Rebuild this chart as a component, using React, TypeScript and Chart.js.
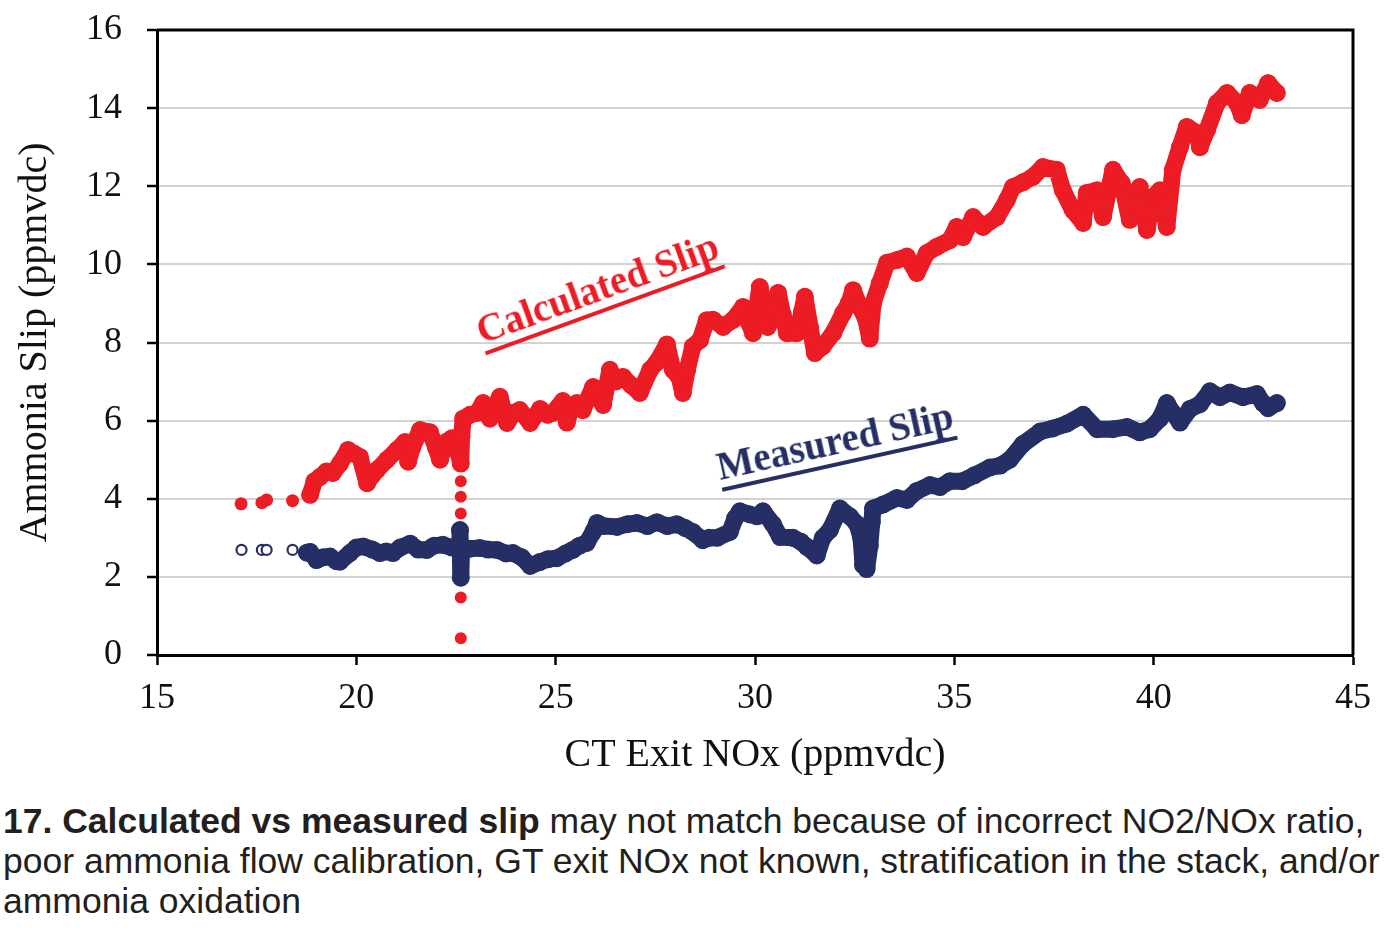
import { useEffect, useRef } from 'react';
import { Chart, registerables } from 'chart.js';
Chart.register(...registerables);

// Calculated slip (dense trace)
const calcX = [18.84, 18.95, 19.09, 19.25, 19.41, 19.59, 19.79, 19.95, 20.09, 20.27, 20.4, 20.52, 20.77, 21.02, 21.22, 21.3, 21.4, 21.6, 21.85, 22.0, 22.1, 22.25, 22.4, 22.55, 22.62, 22.64, 22.68, 22.85, 23.03, 23.18, 23.35, 23.5, 23.6, 23.78, 23.95, 24.1, 24.36, 24.61, 24.8, 24.93, 25.18, 25.28, 25.4, 25.53, 25.68, 25.94, 26.19, 26.36, 26.5, 26.69, 26.9, 27.11, 27.37, 27.54, 27.79, 27.94, 28.1, 28.19, 28.3, 28.44, 28.62, 28.79, 28.95, 29.2, 29.45, 29.7, 29.85, 29.95, 30.05, 30.12, 30.25, 30.32, 30.45, 30.58, 30.7, 30.8, 31.05, 31.18, 31.25, 31.38, 31.5, 31.7, 31.96, 32.21, 32.35, 32.46, 32.63, 32.78, 32.88, 32.96, 33.13, 33.31, 33.56, 33.81, 34.06, 34.31, 34.56, 34.89, 35.06, 35.22, 35.47, 35.72, 36.07, 36.32, 36.47, 36.72, 36.97, 37.22, 37.57, 37.72, 37.97, 38.23, 38.32, 38.58, 38.73, 38.98, 39.2, 39.4, 39.65, 39.83, 39.98, 40.16, 40.33, 40.48, 40.66, 40.83, 41.09, 41.16, 41.34, 41.59, 41.84, 42.09, 42.21, 42.41, 42.66, 42.87, 43.09];
const calcY = [4.1, 4.45, 4.56, 4.7, 4.66, 4.9, 5.25, 5.15, 5.07, 4.4, 4.6, 4.74, 5.0, 5.25, 5.45, 4.95, 5.3, 5.76, 5.7, 5.3, 5.0, 5.45, 5.55, 5.2, 4.9, 5.6, 6.05, 6.15, 6.2, 6.45, 6.05, 6.4, 6.61, 5.94, 6.2, 6.27, 5.94, 6.3, 6.15, 6.2, 6.5, 5.95, 6.35, 6.45, 6.27, 6.86, 6.4, 7.3, 7.0, 7.12, 6.9, 6.71, 7.3, 7.5, 7.95, 7.3, 7.1, 6.71, 7.3, 7.9, 8.06, 8.57, 8.58, 8.4, 8.58, 8.91, 8.5, 8.24, 8.9, 9.42, 8.8, 8.4, 8.8, 9.27, 8.7, 8.24, 8.24, 8.8, 9.17, 8.4, 7.73, 7.9, 8.24, 8.75, 9.0, 9.34, 8.91, 8.6, 8.1, 9.0, 9.52, 10.04, 10.11, 10.2, 9.78, 10.29, 10.45, 10.62, 10.96, 10.7, 11.21, 10.96, 11.21, 11.65, 11.98, 12.1, 12.24, 12.49, 12.42, 11.9, 11.39, 11.06, 11.83, 11.9, 11.21, 12.42, 12.08, 11.14, 11.98, 10.88, 11.72, 11.9, 10.96, 12.42, 13.0, 13.52, 13.36, 13.0, 13.44, 14.13, 14.39, 14.13, 13.82, 14.39, 14.21, 14.64, 14.39];

// Calculated slip, isolated points
const calcSparseX = [17.11, 17.63, 17.75, 18.4];
const calcSparseY = [3.87, 3.9, 3.97, 3.95];
const calcDropX = [22.62, 22.62, 22.62, 22.62, 22.62, 22.62, 22.62, 22.62];
const calcDropY = [4.45, 4.05, 3.62, 3.1, 2.55, 1.95, 1.47, 0.43];

// Measured slip (dense trace)
const measX = [18.76, 18.84, 19.0, 19.17, 19.34, 19.5, 19.59, 19.84, 20.0, 20.17, 20.4, 20.59, 20.75, 20.92, 21.1, 21.35, 21.55, 21.77, 21.95, 22.17, 22.4, 22.58, 22.6, 22.62, 22.64, 22.85, 23.1, 23.3, 23.53, 23.75, 23.93, 24.15, 24.36, 24.6, 24.8, 25.03, 25.25, 25.43, 25.6, 25.78, 25.94, 26.04, 26.2, 26.54, 26.8, 27.04, 27.3, 27.54, 27.8, 28.04, 28.25, 28.44, 28.69, 28.85, 29.05, 29.37, 29.5, 29.62, 29.87, 30.05, 30.2, 30.45, 30.63, 30.95, 31.15, 31.3, 31.55, 31.7, 31.88, 32.13, 32.38, 32.56, 32.66, 32.71, 32.8, 32.88, 32.93, 32.96, 33.21, 33.56, 33.81, 34.06, 34.39, 34.64, 34.89, 35.2, 35.5, 35.89, 36.15, 36.39, 36.72, 37.15, 37.47, 37.82, 38.23, 38.58, 38.98, 39.33, 39.65, 39.9, 40.16, 40.33, 40.48, 40.66, 40.91, 41.16, 41.41, 41.66, 41.91, 42.24, 42.59, 42.74, 42.87, 43.09];
const measY = [2.62, 2.64, 2.43, 2.5, 2.52, 2.4, 2.39, 2.61, 2.75, 2.78, 2.7, 2.61, 2.65, 2.61, 2.75, 2.85, 2.7, 2.69, 2.8, 2.82, 2.75, 2.75, 3.2, 1.98, 2.75, 2.72, 2.74, 2.7, 2.69, 2.6, 2.61, 2.5, 2.28, 2.38, 2.45, 2.48, 2.6, 2.69, 2.8, 2.87, 3.15, 3.38, 3.3, 3.28, 3.35, 3.38, 3.3, 3.4, 3.3, 3.35, 3.25, 3.15, 2.94, 3.0, 3.0, 3.15, 3.5, 3.68, 3.6, 3.55, 3.68, 3.35, 3.02, 3.0, 2.9, 2.77, 2.55, 3.0, 3.2, 3.75, 3.55, 3.35, 3.0, 2.3, 2.2, 2.8, 3.4, 3.75, 3.85, 4.02, 3.97, 4.2, 4.35, 4.3, 4.45, 4.45, 4.6, 4.8, 4.85, 5.0, 5.4, 5.72, 5.8, 5.92, 6.15, 5.78, 5.78, 5.84, 5.7, 5.78, 6.05, 6.45, 6.2, 5.95, 6.3, 6.42, 6.75, 6.6, 6.72, 6.6, 6.68, 6.45, 6.32, 6.45];

// Measured slip, isolated open points
const measSparseX = [17.12, 17.63, 17.75, 18.4];
const measSparseY = [2.69, 2.69, 2.69, 2.69];

const RED = '#ec1c24';
const NAVY = '#252f66';
const SERIF = "'Liberation Serif', 'Times New Roman', serif";

const pts = (xs: number[], ys: number[]) => xs.map((x, i) => ({ x, y: ys[i] }));

const framePlugin = {
  id: 'frame',
  beforeDatasetsDraw(chart: Chart) {
    const { ctx, chartArea: a } = chart;
    ctx.save();
    ctx.strokeStyle = '#000';
    ctx.lineWidth = 3;
    ctx.beginPath();
    ctx.moveTo(a.left, a.top);
    ctx.lineTo(a.right, a.top);
    ctx.lineTo(a.right, a.bottom);
    ctx.stroke();
    ctx.restore();
  },
};

export default function App() {
  const ref = useRef<HTMLCanvasElement>(null);

  useEffect(() => {
    const trace = (color: string) => ({
      showLine: true,
      borderColor: color,
      borderWidth: 17,
      borderJoinStyle: 'round' as const,
      borderCapStyle: 'round' as const,
      tension: 0,
      pointRadius: 9,
      pointBorderWidth: 0,
      pointBackgroundColor: color,
    });

    const chart = new Chart(ref.current!, {
      type: 'scatter',
      data: {
        datasets: [
          { label: 'Measured', data: pts(measX, measY), order: 1, ...trace(NAVY) },
          {
            label: 'Measured (sparse)', data: pts(measSparseX, measSparseY), order: 1,
            pointRadius: 5, pointBackgroundColor: '#fff', pointBorderColor: NAVY, pointBorderWidth: 2.2,
          },
          { label: 'Calculated', data: pts(calcX, calcY), order: 3, ...trace(RED) },
          {
            label: 'Calculated (sparse)', data: pts(calcSparseX, calcSparseY), order: 3,
            pointRadius: 6.5, pointBackgroundColor: RED, pointBorderWidth: 0,
          },
          {
            label: 'Calculated (drop)', data: pts(calcDropX, calcDropY), order: 3,
            pointRadius: 6, pointBackgroundColor: RED, pointBorderWidth: 0,
          },
        ],
      },
      options: {
        animation: false,
        responsive: true,
        maintainAspectRatio: false,
        layout: { padding: { top: 30, right: 36, left: 0, bottom: 0 } },
        plugins: { legend: { display: false }, tooltip: { enabled: false } },
        scales: {
          x: {
            type: 'linear', min: 15, max: 45,
            ticks: { stepSize: 5, color: '#111', padding: 12, font: { family: SERIF, size: 36 } },
            grid: { drawOnChartArea: false, tickLength: 10, tickColor: '#000', tickWidth: 2.5 },
            border: { color: '#000', width: 3 },
            title: { display: true, text: 'CT Exit NOx (ppmvdc)', color: '#111', font: { family: SERIF, size: 40 }, padding: { top: 4, bottom: 11 } },
            afterFit: (s: any) => { s.height = 135; },
          },
          y: {
            min: 0, max: 16,
            ticks: { stepSize: 2, color: '#111', padding: 25, font: { family: SERIF, size: 36 } },
            grid: { color: '#d2d2d2', lineWidth: 2, tickLength: 10, tickColor: '#000', tickWidth: 2.5 },
            border: { color: '#000', width: 3 },
            title: { display: true, text: 'Ammonia Slip (ppmvdc)', color: '#111', font: { family: SERIF, size: 40 }, padding: { top: 11, bottom: 0 } },
            afterFit: (s: any) => { s.width = 157; s.paddingTop = 0; s.paddingBottom = 0; },
          },
        },
      },
      plugins: [framePlugin],
    });

    return () => { chart.destroy(); };
  }, []);

  const label = (text: string, color: string, left: number, baseline: number, angle: number) => (
    <div
      style={{
        position: 'absolute', left, top: baseline - 32.7, whiteSpace: 'nowrap',
        fontFamily: SERIF, fontWeight: 'bold', fontSize: 39, lineHeight: '39px', color,
        textDecoration: 'underline', textDecorationThickness: 4, textUnderlineOffset: 8,
        transformOrigin: '0 32.7px', transform: `rotate(${angle}deg)`,
      }}
    >
      {text}
    </div>
  );

  return (
    <div style={{ position: 'absolute', left: 0, top: 0, width: 1389, height: 935, background: '#fff', overflow: 'hidden' }}>
      <div style={{ position: 'absolute', left: 0, top: 0, width: 1389, height: 790 }}>
        <canvas ref={ref} />
      </div>
      {label('Calculated Slip', RED, 482, 344, -20)}
      {label('Measured Slip', NAVY, 720, 480, -12.5)}
      <div
        style={{
          position: 'absolute', left: 3, top: 801, whiteSpace: 'nowrap',
          fontFamily: "'Liberation Sans', Arial, sans-serif", fontSize: 35.5, lineHeight: '40px', color: '#231f20',
        }}
      >
        <b>17. Calculated vs measured slip</b> may not match because of incorrect NO2/NOx ratio,<br />
        poor ammonia flow calibration, GT exit NOx not known, stratification in the stack, and/or<br />
        ammonia oxidation
      </div>
    </div>
  );
}
